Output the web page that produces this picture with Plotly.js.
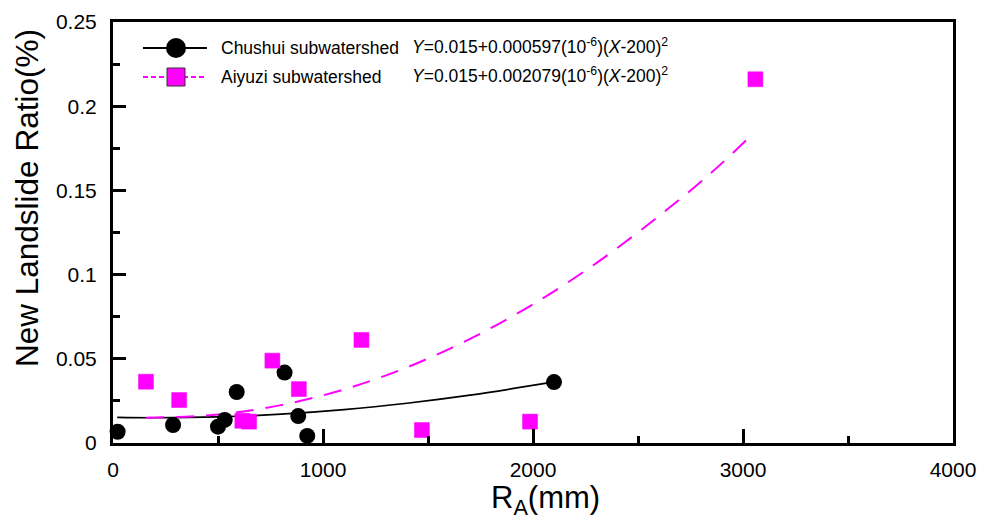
<!DOCTYPE html>
<html>
<head>
<meta charset="utf-8">
<script src="https://cdn.plot.ly/plotly-3.0.1.min.js"></script>
<style>html,body{margin:0;padding:0;background:#fff;}#chart{width:982px;height:521px;}</style>
</head>
<body>
<div id="chart"></div>
<script>
// ---- data ----
var chushuiX = [22, 286, 500, 532, 589, 817, 882, 925, 2100];
var chushuiY = [0.0067, 0.0107, 0.0097, 0.0137, 0.0303, 0.0418, 0.0160, 0.0042, 0.0362];
var aiyuziX = [157, 315, 616, 648, 759, 885, 1183, 1471, 1986, 3059];
var aiyuziY = [0.0364, 0.0255, 0.0132, 0.0127, 0.0489, 0.0320, 0.0612, 0.0077, 0.0127, 0.216];
// fitted curves
var chushuiFitX = [20, 200, 500, 800, 1100, 1400, 1700, 2100];
var chushuiFitY = [0.0152, 0.0150, 0.0155, 0.0171, 0.0198, 0.0236, 0.0284, 0.0363];
var aiyuziFitX = [157, 500, 800, 1100, 1400, 1700, 2000, 2300, 2600, 2850, 3045];
var aiyuziFitY = [0.0150, 0.0169, 0.0225, 0.0318, 0.0449, 0.0618, 0.0824, 0.1067, 0.1348, 0.1606, 0.1833];
var seriesNames = ['Chushui subwatershed', 'Aiyuzi subwatershed'];
var equations = ['<i>Y</i>=0.015+0.000597(10<sup>-6</sup>)(<i>X</i>-200)<sup>2</sup>',
                 '<i>Y</i>=0.015+0.002079(10<sup>-6</sup>)(<i>X</i>-200)<sup>2</sup>'];
var xTickVals = [0, 1000, 2000, 3000, 4000];
var yTickVals = [0, 0.05, 0.1, 0.15, 0.2, 0.25];
var yTickText = ['0', '0.05', '0.1', '0.15', '0.2', '0.25'];
var xTitle = 'R<sub>A</sub>(mm)';
var yTitle = 'New Landslide Ratio(%)';

var W = 982, H = 521;
var M = {l: 113, r: 29, t: 22, b: 78};
var PW = W - M.l - M.r, PH = H - M.t - M.b;
function px(x) { return (x - M.l) / PW; }
function py(y) { return (H - M.b - y) / PH; }

var FONT = 'Liberation Sans, Arial, sans-serif';
var MAG = '#ff00ff';

var traces = [
  {x: chushuiFitX, y: chushuiFitY, mode: 'lines', line: {color: '#000', width: 1.7, shape: 'spline'}, showlegend: false, hoverinfo: 'skip'},
  {x: aiyuziFitX, y: aiyuziFitY, mode: 'lines', line: {color: MAG, width: 2, dash: '18px,12px', shape: 'spline'}, showlegend: false, hoverinfo: 'skip'},
  {x: chushuiX, y: chushuiY, mode: 'markers', name: seriesNames[0], cliponaxis: false,
   marker: {symbol: 'circle', size: 16, color: '#000'}, showlegend: false},
  {x: aiyuziX, y: aiyuziY, mode: 'markers', name: seriesNames[1], cliponaxis: false,
   marker: {symbol: 'square', size: 15, color: MAG, line: {color: MAG, width: 0.5}}, showlegend: false}
];

// manual legend
var r1 = 48, r2 = 77, lx0 = 143, lx1 = 207, lc = 176;
var shapes = [
  {type: 'line', xref: 'paper', yref: 'paper', x0: px(lx0), x1: px(lx1), y0: py(r1), y1: py(r1), line: {color: '#000', width: 2}},
  {type: 'circle', xref: 'paper', yref: 'paper', x0: px(lc - 10), x1: px(lc + 10), y0: py(r1 + 10), y1: py(r1 - 10), fillcolor: '#000', line: {color: '#000', width: 0}},
  {type: 'line', xref: 'paper', yref: 'paper', x0: px(lx0), x1: px(lx1), y0: py(r2), y1: py(r2), line: {color: MAG, width: 2, dash: '5px,3px'}},
  {type: 'rect', xref: 'paper', yref: 'paper', x0: px(lc - 9), x1: px(lc + 9), y0: py(r2 + 9), y1: py(r2 - 9), fillcolor: MAG, line: {color: '#333', width: 1}}
];
var annotations = [
  {xref: 'paper', yref: 'paper', x: px(219), y: py(r1), xanchor: 'left', yanchor: 'middle', text: seriesNames[0], showarrow: false, font: {family: FONT, size: 17.5, color: '#000'}},
  {xref: 'paper', yref: 'paper', x: px(219), y: py(r2), xanchor: 'left', yanchor: 'middle', text: seriesNames[1], showarrow: false, font: {family: FONT, size: 17.5, color: '#000'}},
  {xref: 'paper', yref: 'paper', x: px(410), y: py(r1 - 2), xanchor: 'left', yanchor: 'middle', text: equations[0], showarrow: false, font: {family: FONT, size: 17.5, color: '#000'}},
  {xref: 'paper', yref: 'paper', x: px(410), y: py(r2 - 2), xanchor: 'left', yanchor: 'middle', text: equations[1], showarrow: false, font: {family: FONT, size: 17.5, color: '#000'}},
  // axis titles
  {xref: 'paper', yref: 'paper', x: px(27), y: py(198), xanchor: 'center', yanchor: 'middle', textangle: -90, text: yTitle, showarrow: false, font: {family: FONT, size: 31.5, color: '#000'}},
  {xref: 'paper', yref: 'paper', x: px(545), y: py(521), xanchor: 'center', yanchor: 'bottom', borderpad: 0, text: xTitle, showarrow: false, font: {family: FONT, size: 31, color: '#000'}}
];

var layout = {
  width: W, height: H,
  margin: M,
  paper_bgcolor: '#fff', plot_bgcolor: '#fff',
  font: {family: FONT, color: '#000'},
  showlegend: false,
  xaxis: {
    range: [0, 4000], tickmode: 'array', tickvals: xTickVals,
    showgrid: false, zeroline: false,
    showline: true, linecolor: '#000', linewidth: 3, mirror: true,
    ticks: 'inside', ticklen: 14, tickwidth: 3, tickcolor: '#000',
    minor: {dtick: 500, tick0: 0, ticks: 'inside', ticklen: 7, tickwidth: 3, tickcolor: '#000', showgrid: false},
    tickfont: {family: FONT, size: 21},
    ticklabelstandoff: 6
  },
  yaxis: {
    range: [0, 0.25], tickmode: 'array', tickvals: yTickVals, ticktext: yTickText,
    showgrid: false, zeroline: false,
    showline: true, linecolor: '#000', linewidth: 3, mirror: true,
    ticks: 'inside', ticklen: 13, tickwidth: 3, tickcolor: '#000',
    minor: {dtick: 0.025, tick0: 0, ticks: 'inside', ticklen: 7, tickwidth: 3, tickcolor: '#000', showgrid: false},
    tickfont: {family: FONT, size: 21},
    ticklabelstandoff: 9
  },
  shapes: shapes,
  annotations: annotations
};

Plotly.newPlot('chart', traces, layout, {displayModeBar: false, staticPlot: true});
</script>
</body>
</html>
